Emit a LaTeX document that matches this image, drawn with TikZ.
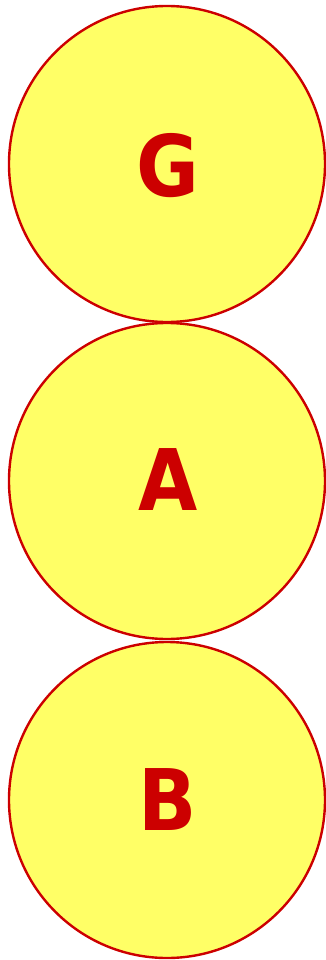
\documentclass[tikz,border=0pt]{standalone}
\usepackage{fontspec}
\setmainfont{DejaVu Sans Condensed}
\definecolor{circfill}{HTML}{FFFF66}
\definecolor{circline}{HTML}{CC0000}
\begin{document}
\begin{tikzpicture}[x=1pt,y=-1pt,
  ball/.style={circle,draw=circline,fill=circfill,line width=2.4pt,minimum size=316pt,inner sep=0pt},
  lbl/.style={text=circline,font=\fontsize{85}{85}\selectfont\bfseries,inner sep=0pt}]
\useasboundingbox (0,0) rectangle (325,960);
\node[ball] (g) at (167,164) {};
\node[ball] (a) at (167,481) {};
\node[ball] (b) at (167,800) {};
\node[lbl] (gl) at (168,166) {G};
\node[lbl] (al) at (168,480) {A};
\node[lbl] (bl) at (168,800) {B};
\end{tikzpicture}
\end{document}
